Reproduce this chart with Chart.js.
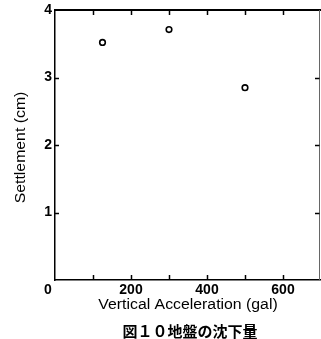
<!DOCTYPE html>
<html><head><meta charset="utf-8">
<script src="https://cdn.jsdelivr.net/npm/chart.js@4/dist/chart.umd.min.js"></script>
<style>html,body{margin:0;padding:0;background:#fff}canvas{display:block}</style>
</head><body>
<canvas id="c" width="321" height="339"></canvas>
<script>
// ---- data ----
const accel = [125, 300, 500];          // Vertical acceleration (gal)
const settlement = [3.52, 3.71, 2.85];  // Settlement (cm)
const xTickValues = [100, 200, 300, 400, 500, 600];
const xLabelValues = [200, 400, 600];
const yTickValues = [1, 2, 3];
const yLabelValues = [1, 2, 3, 4];
const xTitle = 'Vertical Acceleration (gal)';
const yTitle = 'Settlement (cm)';
const caption = '図１０地盤の沈下量';
const originLabel = '0';

const FONT = '"Liberation Sans", Arial, sans-serif';

const framePlugin = {
  id: 'frame',
  afterDraw(chart) {
    const ctx = chart.ctx, a = chart.chartArea;
    const xs = chart.scales.x, ys = chart.scales.y;
    ctx.save();
    ctx.strokeStyle = '#000';
    // top line
    ctx.lineWidth = 2;
    ctx.beginPath(); ctx.moveTo(a.left, a.top); ctx.lineTo(a.right, a.top); ctx.stroke();
    // right line (faint)
    ctx.lineWidth = 1;
    ctx.strokeStyle = '#666';
    ctx.beginPath(); ctx.moveTo(319.5, a.top); ctx.lineTo(319.5, a.bottom); ctx.stroke();
    ctx.strokeStyle = '#000';
    ctx.lineWidth = 1.5;
    // x ticks, inward on bottom and top
    xTickValues.forEach(v => {
      const px = Math.round(xs.getPixelForValue(v)) + 0.5;
      ctx.beginPath(); ctx.moveTo(px, a.bottom); ctx.lineTo(px, a.bottom - 5); ctx.stroke();
      ctx.beginPath(); ctx.moveTo(px, a.top); ctx.lineTo(px, a.top + 5); ctx.stroke();
    });
    // y ticks, inward on left and right
    yTickValues.forEach(v => {
      const py = Math.round(ys.getPixelForValue(v)) + 0.5;
      ctx.beginPath(); ctx.moveTo(a.left, py); ctx.lineTo(a.left + 4, py); ctx.stroke();
      ctx.beginPath(); ctx.moveTo(319.5, py); ctx.lineTo(315, py); ctx.stroke();
    });
    // titles
    ctx.fillStyle = '#000';
    ctx.textAlign = 'center';
    ctx.textBaseline = 'middle';
    ctx.save();
    ctx.translate(188, 305);
    ctx.scale(1.13, 1);
    ctx.font = '14px ' + FONT;
    ctx.fillText(xTitle, 0, 0);
    ctx.restore();
    ctx.font = 'bold 14px ' + FONT;
    ctx.fillText(originLabel, 48, 290);
    ctx.save();
    ctx.translate(21, 147.5);
    ctx.rotate(-Math.PI / 2);
    ctx.scale(1.13, 1);
    ctx.font = '14px ' + FONT;
    ctx.fillText(yTitle, 0, 0);
    ctx.restore();
    ctx.font = 'bold 15px "Noto Sans CJK JP", sans-serif';
    ctx.fillText(caption, 190, 331);
    ctx.restore();
  }
};

new Chart(document.getElementById('c'), {
  type: 'scatter',
  data: {
    datasets: [{
      data: accel.map((x, i) => ({ x, y: settlement[i] })),
      pointStyle: 'circle',
      pointRadius: 2.8,
      pointBorderWidth: 1.6,
      pointBorderColor: '#000',
      pointBackgroundColor: '#fff'
    }]
  },
  options: {
    responsive: false,
    animation: false,
    devicePixelRatio: 1,
    layout: { autoPadding: false, padding: { top: 10, right: 0, left: 0, bottom: 0 } },
    plugins: { legend: { display: false }, tooltip: { enabled: false } },
    scales: {
      x: {
        type: 'linear', min: 0, max: 700,
        afterFit(s) { s.height = 59; s.paddingLeft = 0; s.paddingRight = 0; },
        afterBuildTicks(s) { s.ticks = xLabelValues.map(v => ({ value: v })); },
        grid: { drawOnChartArea: false, drawTicks: false },
        border: { display: true, color: '#000', width: 1.5 },
        ticks: { padding: 2, color: '#000', font: { family: FONT, size: 14, weight: 'bold' }, maxRotation: 0, autoSkip: false }
      },
      y: {
        type: 'linear', min: 0, max: 4,
        afterFit(s) { s.width = 55; s.paddingTop = 0; s.paddingBottom = 0; },
        afterBuildTicks(s) { s.ticks = yLabelValues.map(v => ({ value: v })); },
        grid: { drawOnChartArea: false, drawTicks: false },
        border: { display: true, color: '#000', width: 1.5 },
        ticks: { padding: 3, color: '#000', font: { family: FONT, size: 14, weight: 'bold' }, autoSkip: false }
      }
    }
  },
  plugins: [framePlugin]
});
</script>
</body></html>
